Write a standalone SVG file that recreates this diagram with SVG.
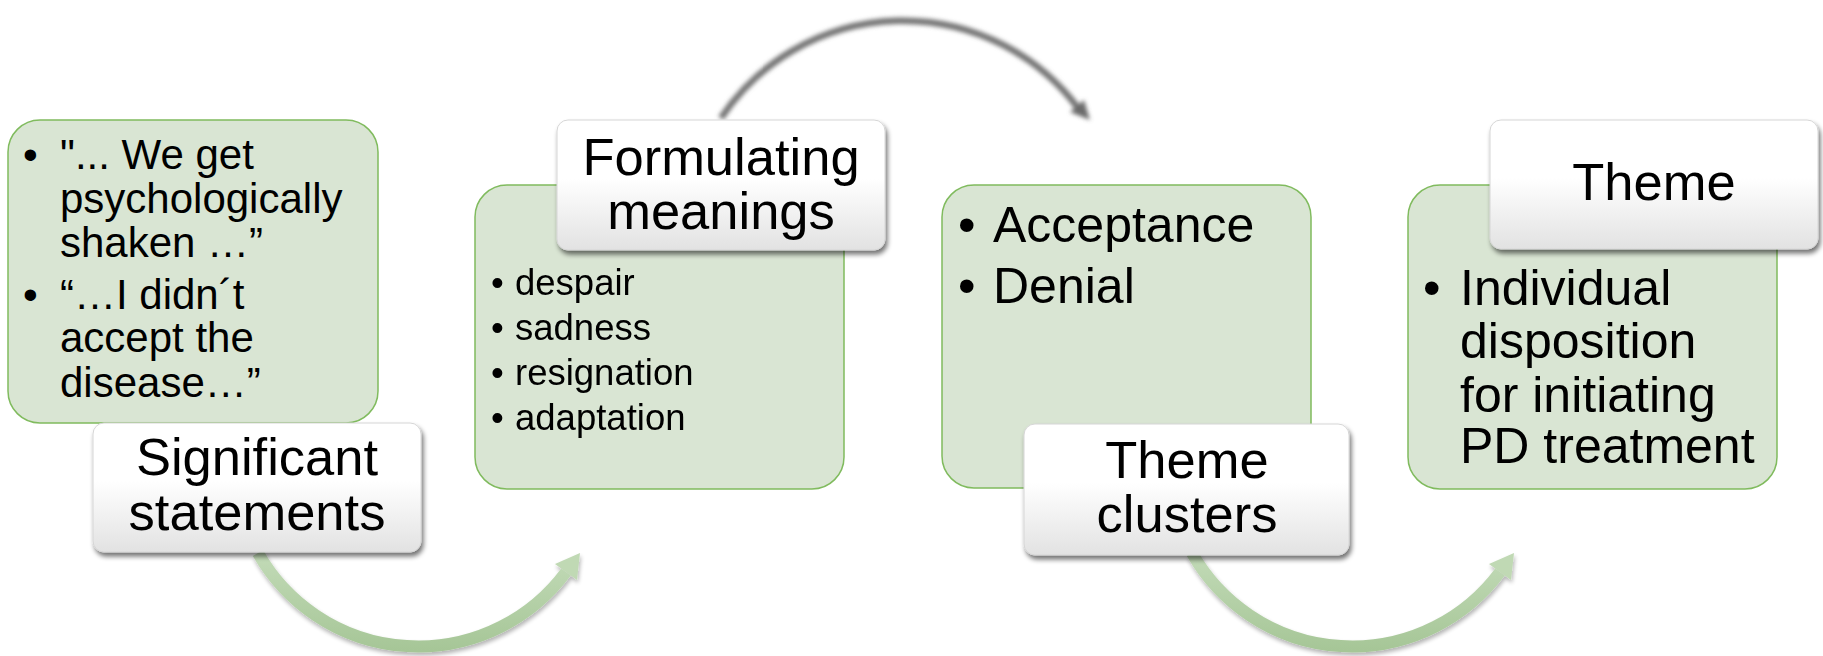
<svg xmlns="http://www.w3.org/2000/svg" width="1823" height="656" viewBox="0 0 1823 656">
  <defs>
    <linearGradient id="labelGrad" x1="0" y1="0" x2="0" y2="1">
      <stop offset="0" stop-color="#ffffff"/>
      <stop offset="0.45" stop-color="#ffffff"/>
      <stop offset="1" stop-color="#e2e2e2"/>
    </linearGradient>
    <linearGradient id="arrowGrad" gradientUnits="userSpaceOnUse" x1="0" y1="550" x2="0" y2="650">
      <stop offset="0" stop-color="#c3dbb8"/>
      <stop offset="1" stop-color="#a6c697"/>
    </linearGradient>
    <filter id="shadow" x="-10%" y="-10%" width="125%" height="135%">
      <feGaussianBlur in="SourceAlpha" stdDeviation="2.5"/>
      <feOffset dx="2" dy="4" result="b"/>
      <feComponentTransfer><feFuncA type="linear" slope="0.55"/></feComponentTransfer>
      <feMerge><feMergeNode/><feMergeNode in="SourceGraphic"/></feMerge>
    </filter>
    <filter id="arrowShadow" x="-10%" y="-10%" width="120%" height="130%">
      <feGaussianBlur in="SourceAlpha" stdDeviation="2"/>
      <feOffset dx="1" dy="3" result="b"/>
      <feComponentTransfer><feFuncA type="linear" slope="0.3"/></feComponentTransfer>
      <feMerge><feMergeNode/><feMergeNode in="SourceGraphic"/></feMerge>
    </filter>
    <filter id="blur" x="-10%" y="-20%" width="120%" height="140%">
      <feGaussianBlur stdDeviation="2.2"/>
    </filter>
    <g id="greenArrow">
      <path d="M 258 553 A 184 184 0 0 0 566 572" fill="none" stroke="url(#arrowGrad)" stroke-width="12"/>
      <polygon points="580,553 555,564 577,580" fill="#c0d9b4"/>
    </g>
  </defs>
  <style>
    .box { fill: #d9e5d3; stroke: #80bb5e; stroke-width: 1.5; }
    .label { fill: url(#labelGrad); stroke: #d6d6d6; stroke-width: 1; filter: url(#shadow); }
    .lt { font-family: "Liberation Sans", Arial, sans-serif; font-size: 52.5px; fill: #000; text-anchor: middle; }
    .t42 { font-family: "Liberation Sans", Arial, sans-serif; font-size: 42px; fill: #000; }
    .t36 { font-family: "Liberation Sans", Arial, sans-serif; font-size: 36.5px; fill: #000; }
    .t50 { font-family: "Liberation Sans", Arial, sans-serif; font-size: 50px; fill: #000; }
  </style>
  <rect width="1823" height="656" fill="#ffffff"/>

  <g id="connectors">
    <g filter="url(#arrowShadow)">
      <use href="#greenArrow"/>
      <use href="#greenArrow" transform="translate(934,0)"/>
    </g>
    <g filter="url(#blur)">
      <path d="M 721 118 A 219 219 0 0 1 1078 108" fill="none" stroke="#737373" stroke-width="6.5"/>
      <polygon points="1090,120 1070,112 1084,100" fill="#6a6a6a"/>
    </g>
  </g>

  <g id="node-significant">
    <rect class="box" x="8" y="120" width="370" height="303" rx="32"/>
    <text class="t42"><tspan x="23" y="169">•</tspan><tspan x="60" y="169">"... We get</tspan><tspan x="60" y="213">psychologically</tspan><tspan x="60" y="257">shaken …”</tspan><tspan x="23" y="309">•</tspan><tspan x="60" y="309">“…I didn´t</tspan><tspan x="60" y="352">accept the</tspan><tspan x="60" y="397">disease…”</tspan></text>
    <rect class="label" x="93" y="423" width="328" height="129" rx="11"/>
    <text class="lt"><tspan x="257" y="475">Significant</tspan><tspan x="257" y="530">statements</tspan></text>
  </g>

  <g id="node-meanings">
    <rect class="box" x="475" y="185" width="369" height="304" rx="32"/>
    <text class="t36"><tspan x="491" y="295">•</tspan><tspan x="515" y="295">despair</tspan><tspan x="491" y="340">•</tspan><tspan x="515" y="340">sadness</tspan><tspan x="491" y="385">•</tspan><tspan x="515" y="385">resignation</tspan><tspan x="491" y="430">•</tspan><tspan x="515" y="430">adaptation</tspan></text>
    <rect class="label" x="557" y="120" width="328" height="130" rx="11"/>
    <text class="lt"><tspan x="721" y="175">Formulating</tspan><tspan x="721" y="229">meanings</tspan></text>
  </g>

  <g id="node-clusters">
    <rect class="box" x="942" y="185" width="369" height="303" rx="32"/>
    <text class="t50"><tspan x="958" y="242">•</tspan><tspan x="993" y="242">Acceptance</tspan><tspan x="958" y="303">•</tspan><tspan x="993" y="303">Denial</tspan></text>
    <rect class="label" x="1024" y="424" width="325" height="131" rx="11"/>
    <text class="lt"><tspan x="1187" y="478">Theme</tspan><tspan x="1187" y="532">clusters</tspan></text>
  </g>

  <g id="node-theme">
    <rect class="box" x="1408" y="185" width="369" height="304" rx="32"/>
    <text class="t50"><tspan x="1423" y="305">•</tspan><tspan x="1460" y="305">Individual</tspan><tspan x="1460" y="358">disposition</tspan><tspan x="1460" y="412">for initiating</tspan><tspan x="1460" y="463">PD treatment</tspan></text>
    <rect class="label" x="1490" y="120" width="328" height="129" rx="11"/>
    <text class="lt" x="1654" y="200">Theme</text>
  </g>
</svg>
